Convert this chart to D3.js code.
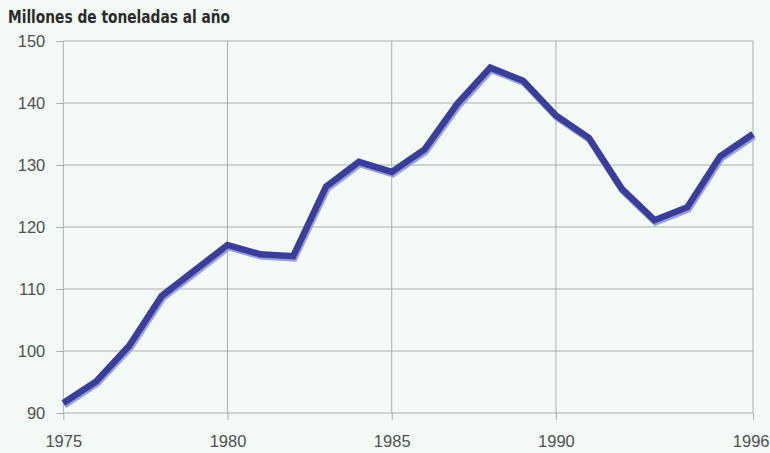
<!DOCTYPE html>
<html>
<head>
<meta charset="utf-8">
<script src="https://cdn.jsdelivr.net/npm/d3@7"></script>
<style>
  html, body { margin: 0; padding: 0; background: #f3faf8; }
  svg { display: block; }
</style>
</head>
<body>
<svg id="chart" width="770" height="453"></svg>
<script>
// Annual output, millions of tonnes
const years = [1975, 1976, 1977, 1978, 1979, 1980, 1981, 1982, 1983, 1984, 1985,
               1986, 1987, 1988, 1989, 1990, 1991, 1992, 1993, 1994, 1995, 1996];
const values = [91.6, 95.1, 100.8, 108.9, 113.0, 117.1, 115.6, 115.3, 126.5, 130.5, 128.9,
                132.5, 139.9, 145.7, 143.6, 138.0, 134.4, 126.2, 121.1, 123.2, 131.4, 135.0];
const xTicks = [1975, 1980, 1985, 1990, 1996];
const yTicks = [90, 100, 110, 120, 130, 140, 150];
const title = "Millones de toneladas al año";

const svg = d3.select("#chart");
const width = +svg.attr("width");
const plotLeft = 63.3, plotRight = 753, plotTop = 41, plotBottom = 413;

const x = d3.scaleLinear().domain([1975, 1996]).range([plotLeft, plotRight]);
const y = d3.scaleLinear().domain([90, 150]).range([plotBottom, plotTop]);

const gridColor = "#abafad";
const labelColor = "#505050";

// horizontal grid lines
svg.append("g")
  .selectAll("line")
  .data(yTicks)
  .join("line")
  .attr("x1", plotLeft).attr("x2", plotRight)
  .attr("y1", d => y(d)).attr("y2", d => y(d))
  .attr("stroke", gridColor).attr("stroke-width", 1);

// vertical grid lines
svg.append("g")
  .selectAll("line")
  .data(xTicks)
  .join("line")
  .attr("x1", d => x(d)).attr("x2", d => x(d))
  .attr("y1", plotTop).attr("y2", plotBottom)
  .attr("stroke", gridColor).attr("stroke-width", 1);

// y axis
const yAxis = svg.append("g")
  .attr("transform", `translate(${plotLeft},0)`)
  .call(d3.axisLeft(y).tickValues(yTicks).tickSize(7).tickPadding(11).tickFormat(d3.format("d")));
yAxis.select(".domain").remove();
yAxis.selectAll(".tick line").attr("stroke", gridColor);
yAxis.selectAll(".tick text")
  .attr("fill", labelColor)
  .style("font-family", "'Liberation Sans', Arial, sans-serif")
  .style("font-size", "16.5px");

// x axis
const xAxis = svg.append("g")
  .attr("transform", `translate(0,${plotBottom})`)
  .call(d3.axisBottom(x).tickValues(xTicks).tickSize(7).tickPadding(15).tickFormat(d3.format("d")));
xAxis.select(".domain").remove();
xAxis.selectAll(".tick line").attr("stroke", gridColor);
xAxis.selectAll(".tick text")
  .attr("fill", labelColor)
  .style("font-family", "'Liberation Sans', Arial, sans-serif")
  .style("font-size", "16.5px");

// keep the last year label inside the right edge
xAxis.selectAll(".tick text")
  .filter(d => d === xTicks[xTicks.length - 1])
  .attr("text-anchor", "end")
  .attr("x", width - 1 - x(xTicks[xTicks.length - 1]));

// series line with a soft lighter shadow underneath
const pts = years.map((yr, i) => [yr, values[i]]);
const line = d3.line().x(d => x(d[0])).y(d => y(d[1]));

svg.append("path")
  .datum(pts)
  .attr("d", line)
  .attr("transform", "translate(1,2)")
  .attr("fill", "none")
  .attr("stroke", "#9a9fe0")
  .attr("stroke-width", 7)
  .attr("stroke-linejoin", "miter");

svg.append("path")
  .datum(pts)
  .attr("d", line)
  .attr("fill", "none")
  .attr("stroke", "#3b3e98")
  .attr("stroke-width", 6.5)
  .attr("stroke-linejoin", "miter");

// title
svg.append("text")
  .attr("x", 8)
  .attr("y", 23)
  .attr("textLength", 222)
  .attr("lengthAdjust", "spacingAndGlyphs")
  .attr("fill", "#2b2b2b")
  .style("font-family", "'Liberation Sans Narrow', 'DejaVu Sans Condensed', 'Liberation Sans', sans-serif")
  .style("font-weight", "bold")
  .style("font-size", "17.5px")
  .text(title);
</script>
</body>
</html>
